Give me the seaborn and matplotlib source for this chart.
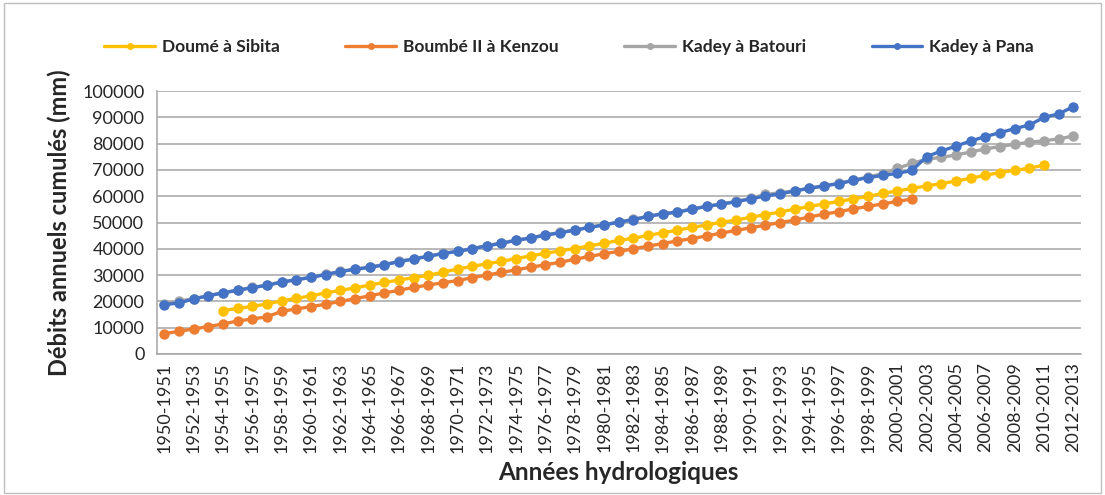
import numpy as np
import pandas as pd
import matplotlib
matplotlib.use('Agg')
import matplotlib.pyplot as plt
import seaborn as sns
from matplotlib.lines import Line2D
from matplotlib.patches import Rectangle

sns.set_style('white')
plt.rcParams['font.family'] = ['Lato', 'DejaVu Sans']

# années hydrologiques 1950-1951 ... 2012-2013
annees = [f"{a}-{a + 1}" for a in range(1950, 2013)]

stations = ['Doumé à Sibita', 'Boumbé II à Kenzou', 'Kadey à Batouri', 'Kadey à Pana']
couleurs = ['#FFC000', '#ED7D31', '#A5A5A5', '#4472C4']

# débits annuels cumulés (mm)
doume_sibita = [np.nan] * 4 + [
    16500, 17300, 18100, 19000, 20200, 21100, 22100, 23200, 24200, 25100,
    26200, 27200, 28100, 29000, 29900, 31100, 32300, 33300, 34300, 35200,
    36300, 37300, 38300, 39200, 40100, 41100, 42100, 43200, 44000, 45100,
    46100, 47100, 48100, 49100, 50100, 50900, 52000, 53000, 54000, 55100,
    56100, 57100, 58000, 59000, 59900, 61100, 62000, 63000, 63900, 64800,
    65800, 66800, 68000, 69000, 69900, 70600, 71900] + [np.nan] * 2

boumbe_kenzou = [
    7700, 8600, 9500, 10400, 11400, 12500, 13300, 14100, 16200, 17100,
    18000, 18900, 20000, 21000, 22100, 23200, 24200, 25300, 26200, 27100,
    27900, 29000, 30000, 31000, 32000, 33000, 33900, 34900, 36000, 37100,
    38100, 39000, 40000, 41000, 42000, 43000, 43900, 44900, 46000, 47000,
    48000, 49000, 50000, 50900, 52100, 53200, 54100, 55200, 56100, 57100,
    58000, 59000] + [np.nan] * 11

kadey_batouri = [
    19000, 20100, 21000, 22200, 23300, 24300, 25300, 26200, 27400, 28300,
    29200, 30300, 31400, 32300, 33000, 34000, 35200, 36200, 37200, 38300,
    39100, 40100, 41200, 42200, 43300, 44200, 45300, 46200, 47200, 48200,
    49200, 50200, 51200, 52400, 53400, 54000, 55200, 56200, 57100, 58000,
    59200, 60700, 61300, 62100, 63100, 64000, 64900, 66100, 67300, 68600,
    70600, 72500, 74100, 74800, 75700, 76800, 78000, 78900, 79800, 80500,
    81100, 81800, 82900]

kadey_pana = [
    18700, 19400, 20900, 22100, 23200, 24200, 25200, 26100, 27300, 28200,
    29100, 30200, 31300, 32200, 32900, 33900, 35100, 36100, 37100, 38200,
    39000, 40000, 41100, 42100, 43200, 44100, 45200, 46100, 47100, 48100,
    49100, 50100, 51100, 52300, 53300, 53900, 55100, 56100, 57000, 57900,
    59000, 60100, 60900, 62000, 63000, 63900, 64800, 66000, 67100, 67900,
    68700, 69800, 75100, 77200, 79100, 81000, 82700, 84200, 85700, 87100,
    90000, 91300, 94100]

series = [doume_sibita, boumbe_kenzou, kadey_batouri, kadey_pana]

df = pd.DataFrame({
    'pos': np.tile(np.arange(len(annees)), len(stations)),
    'station': np.repeat(stations, len(annees)),
    'debit': np.concatenate([np.array(s, dtype=float) for s in series]),
}).dropna()

fig = plt.figure(figsize=(11.05, 4.95), dpi=100)
ax = fig.add_axes([0.142, 0.285, 0.836, 0.531])

sns.lineplot(data=df, x='pos', y='debit', hue='station', hue_order=stations,
             palette=couleurs, marker='o', markersize=7.5, markeredgewidth=0,
             linewidth=2.4, legend=False, ax=ax)

ax.set_xlim(-0.5, len(annees) - 0.5)
ax.set_ylim(0, 100000)
ax.set_yticks(range(0, 100001, 10000))
ax.set_yticklabels([str(v) for v in range(0, 100001, 10000)], fontsize=13)
ax.set_xticks(range(0, len(annees), 2))
ax.set_xticklabels(annees[::2], rotation=90, fontsize=13)
ax.set_xticks(np.arange(-0.5, len(annees), 1), minor=True)
ax.tick_params(axis='x', which='major', length=0, pad=6)
ax.tick_params(axis='x', which='minor', length=5, color='#A6A6A6', direction='out')
ax.tick_params(axis='y', length=5, color='#A6A6A6', direction='out', pad=4)

ax.grid(axis='y', color='#A6A6A6', linewidth=1.1)
ax.set_axisbelow(True)
for s in ['top', 'right']:
    ax.spines[s].set_visible(False)
for s in ['left', 'bottom']:
    ax.spines[s].set_color('#A6A6A6')
    ax.spines[s].set_linewidth(1.1)

ax.set_xlabel('Années hydrologiques', fontsize=17.5, fontweight='bold', labelpad=6)
ax.set_ylabel('Débits annuels cumulés (mm)', fontsize=17, fontweight='bold', labelpad=8)

handles = [Line2D([0], [0], color=c, lw=2.4, marker='o', markersize=5,
                  markeredgewidth=0) for c in couleurs]
fig.legend(handles, stations, loc='center', bbox_to_anchor=(0.515, 0.905),
           ncol=4, frameon=False, handlelength=2.9, columnspacing=3.8,
           handletextpad=0.4, prop={'weight': 'bold', 'size': 12.5})

fig.patches.append(Rectangle((0.004, 0.004), 0.992, 0.99, transform=fig.transFigure,
                             fill=False, edgecolor='#BFBFBF', linewidth=1))

fig.savefig('out.png', dpi=100)
